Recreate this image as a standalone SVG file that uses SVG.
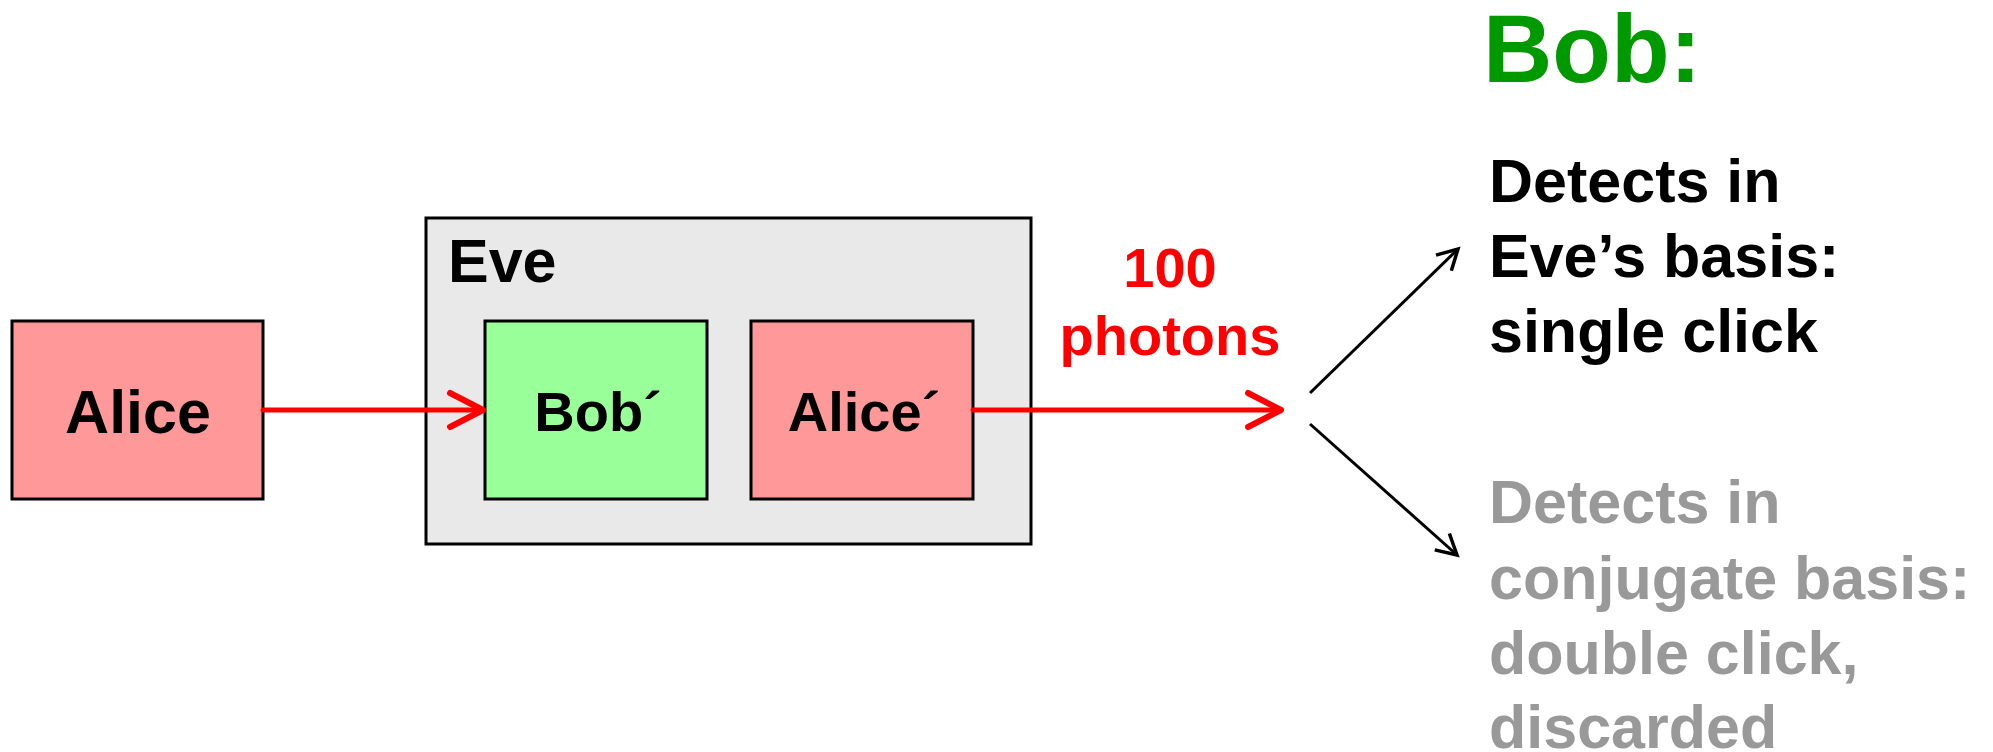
<svg xmlns="http://www.w3.org/2000/svg" width="1993" height="752" viewBox="0 0 1993 752">
<style>
text{font-family:"Liberation Sans",Arial,sans-serif;font-weight:bold}
.box{stroke:#000;stroke-width:3}
.lbl{font-size:58px;fill:#000;text-anchor:middle}
.red{stroke:#ff0000;stroke-width:5;fill:none;stroke-linecap:round}
.blk{stroke:#000;stroke-width:3;fill:none}
.bt{font-size:61px;fill:#000}
.gt{font-size:61px;fill:#999999}
</style>
<defs>
<marker id="ar" markerUnits="userSpaceOnUse" orient="auto" refX="0" refY="0" markerWidth="50" markerHeight="50" viewBox="-40 -25 50 50" overflow="visible">
<path d="M-33,-17 L0,0 L-33,17" fill="none" stroke="#ff0000" stroke-width="6" stroke-linecap="round" stroke-linejoin="round"/>
</marker>
<marker id="ab" markerUnits="userSpaceOnUse" orient="auto" refX="0" refY="0" markerWidth="40" markerHeight="40" viewBox="-30 -20 40 40" overflow="visible">
<path d="M-20,-11 L0,0 L-20,11" fill="none" stroke="#000" stroke-width="3.5" stroke-linejoin="miter"/>
</marker>
</defs>
<rect width="1993" height="752" fill="#fff"/>
<g id="eve">
<rect class="box" x="426" y="218" width="605" height="326" fill="#e9e9e9"/>
<text x="448" y="282" style="font-size:61px">Eve</text>
</g>
<g id="alice">
<rect class="box" x="12" y="321" width="251" height="178" fill="#ff9999"/>
<text class="lbl" x="138" y="433" style="font-size:61px">Alice</text>
</g>
<g id="bobp">
<rect class="box" x="485" y="321" width="222" height="178" fill="#99ff99"/>
<text class="lbl" x="598" y="431" style="font-size:56px">Bob´</text>
</g>
<g id="alicep">
<rect class="box" x="751" y="321" width="222" height="178" fill="#ff9999"/>
<text class="lbl" x="864" y="431" style="font-size:56px">Alice´</text>
</g>
<g id="connectors">
<line class="red" x1="263" y1="410" x2="483" y2="410" marker-end="url(#ar)"/>
<line class="red" x1="973" y1="410" x2="1281" y2="410" marker-end="url(#ar)"/>
<line class="blk" x1="1310" y1="393" x2="1458" y2="249" marker-end="url(#ab)"/>
<line class="blk" x1="1310" y1="424" x2="1457" y2="555" marker-end="url(#ab)"/>
</g>
<g id="photons-label">
<text x="1170" y="287" style="font-size:56px;fill:#ff0000;text-anchor:middle">100</text>
<text x="1170" y="355" style="font-size:56px;fill:#ff0000;text-anchor:middle">photons</text>
</g>
<g id="bob">
<text x="1483" y="82" style="font-size:96px;fill:#009900">Bob:</text>
<text class="bt" x="1489" y="202">Detects in</text>
<text class="bt" x="1489" y="277">Eve’s basis:</text>
<text class="bt" x="1489" y="352">single click</text>
<text class="gt" x="1489" y="523">Detects in</text>
<text class="gt" x="1489" y="599">conjugate basis:</text>
<text class="gt" x="1489" y="674">double click,</text>
<text class="gt" x="1489" y="748">discarded</text>
</g>
</svg>
